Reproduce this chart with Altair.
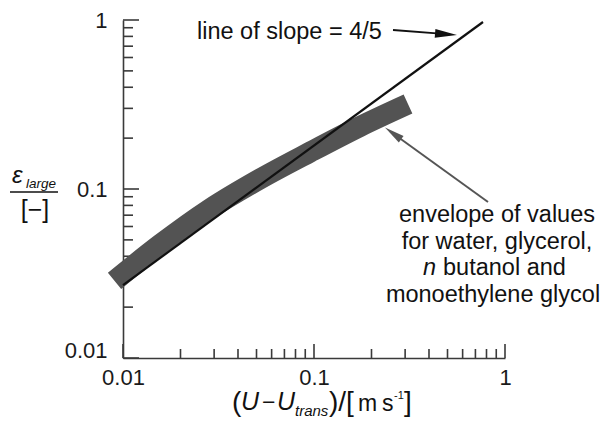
import altair as alt
import pandas as pd

# ---------------- data ----------------
band_x = [0.00903, 0.0156, 0.0285, 0.0522, 0.0953, 0.174, 0.3105]
band_y = [0.0286, 0.0468, 0.0762, 0.1148, 0.1652, 0.2344, 0.3184]
slope_x = [0.01, 0.767]
slope_y = [0.0270, 0.973]
major_ticks = [0.01, 0.1, 1]
minor_ticks = [0.02, 0.03, 0.04, 0.05, 0.06, 0.07, 0.08, 0.09,
               0.2, 0.3, 0.4, 0.5, 0.6, 0.7, 0.8, 0.9]

FONT = "Liberation Sans"
OX, OY = 123, 20          # plot-area origin in the page
W, H = 382, 338           # plot area size

band_df = pd.DataFrame({"x": band_x, "y": band_y})
slope_df = pd.DataFrame({"x": slope_x, "y": slope_y})
major_df = pd.DataFrame({"v": major_ticks})
minor_df = pd.DataFrame({"v": minor_ticks})

xs = alt.Scale(type="log", domain=[0.01, 1], nice=False)
ys = alt.Scale(type="log", domain=[0.01, 1], nice=False)

xaxis = alt.Axis(values=major_ticks, format="~g", ticks=False, grid=False,
                 domainColor="#3a3a3a", domainWidth=1.6, labelFont=FONT,
                 labelFontSize=22, labelColor="#1a1a1a", labelPadding=9,
                 labelFlush=False, labelOverlap=False, title=None)
yaxis = alt.Axis(values=major_ticks, format="~g", ticks=False, grid=False,
                 domainColor="#3a3a3a", domainWidth=1.6, labelFont=FONT,
                 labelFontSize=22, labelColor="#1a1a1a", labelPadding=16,
                 labelOffset={"condition": {"test": "datum.value < 0.02", "value": -8}, "value": 0},
                 labelFlush=False, labelOverlap=False, title=None)

base_x = alt.X("x:Q", scale=xs, axis=xaxis)
base_y = alt.Y("y:Q", scale=ys, axis=yaxis)

band = alt.Chart(band_df).mark_line(
    color="#535353", strokeWidth=21, strokeCap="butt", interpolate="monotone"
).encode(x=base_x, y=base_y)

slope = alt.Chart(slope_df).mark_line(color="#111111", strokeWidth=2.2).encode(
    x=base_x, y=base_y)

TICK_COL = "#3a3a3a"
xmaj = alt.Chart(major_df).mark_rule(color=TICK_COL, strokeWidth=1.6).encode(
    x=alt.X("v:Q", scale=xs, axis=xaxis), y=alt.value(H), y2=alt.value(H - 14))
xmin = alt.Chart(minor_df).mark_rule(color=TICK_COL, strokeWidth=1.6).encode(
    x=alt.X("v:Q", scale=xs, axis=xaxis), y=alt.value(H), y2=alt.value(H - 9))
ymaj = alt.Chart(major_df).mark_rule(color=TICK_COL, strokeWidth=1.6).encode(
    y=alt.Y("v:Q", scale=ys, axis=yaxis), x=alt.value(0), x2=alt.value(16))
ymin = alt.Chart(minor_df).mark_rule(color=TICK_COL, strokeWidth=1.6).encode(
    y=alt.Y("v:Q", scale=ys, axis=yaxis), x=alt.value(0), x2=alt.value(10))

ONE = alt.Data(values=[{"a": 1}])


def txt(s, x, y, size=23.5, style="normal", align="left", baseline="alphabetic",
        color="#111111"):
    return alt.Chart(ONE).mark_text(
        text=s, font=FONT, fontSize=size, fontStyle=style, align=align,
        baseline=baseline, color=color
    ).encode(x=alt.value(x - OX), y=alt.value(y - OY))


def seg(x1, y1, x2, y2, color, width):
    return alt.Chart(ONE).mark_rule(color=color, strokeWidth=width).encode(
        x=alt.value(x1 - OX), y=alt.value(y1 - OY),
        x2=alt.value(x2 - OX), y2=alt.value(y2 - OY))


HEAD = "M0,0 L-1,-0.2 L-1,0.2 Z"


def head(x, y, angle, size, color):
    return alt.Chart(ONE).mark_point(
        shape=HEAD, size=size, angle=angle, filled=True, color=color,
        opacity=1, strokeWidth=0
    ).encode(x=alt.value(x - OX), y=alt.value(y - OY))


ann = [
    txt("line of slope = 4/5", 197, 39),
    seg(393, 30, 440, 33.7, "#111111", 1.8),
    head(457, 35, 4.5, 1936, "#111111"),
    seg(488, 202, 398, 137, "#555555", 2),
    head(385, 127.5, 216, 1600, "#555555"),
    txt("envelope of values", 497, 222, align="center"),
    txt("for water, glycerol,", 497, 248.5, align="center"),
    txt("n", 423, 275, style="italic"),
    txt("butanol and", 443, 275),
    txt("monoethylene glycol", 493, 302, align="center"),
    # y title
    txt("ε", 12, 183, size=24, style="italic"),
    txt("large", 26, 188, size=13.5, style="italic"),
    seg(10, 192, 58, 192, "#111111", 1.5),
    txt("[−]", 35, 218, size=25, align="center"),
    # x title
    txt("(", 232, 411, size=28),
    txt("U", 241, 410, size=25, style="italic"),
    txt("−", 262, 410, size=23),
    txt("U", 277, 410, size=25, style="italic"),
    txt("trans", 295, 416, size=15, style="italic"),
    txt(")/[", 329, 411, size=28),
    txt("m", 358, 411, size=23),
    txt("s", 382, 411, size=23),
    txt("-1", 394, 399, size=11),
    txt("]", 404, 411, size=28),
]

chart = alt.layer(xmin, xmaj, ymin, ymaj, band, slope, *ann).properties(
    width=W, height=H,
    autosize=alt.AutoSizeParams(type="none"),
    padding={"left": OX, "top": OY, "right": 611 - OX - W, "bottom": 421 - OY - H},
    background="white",
).configure_view(stroke=None)

chart.save("out.html", embed_options={"renderer": "svg", "actions": False})
